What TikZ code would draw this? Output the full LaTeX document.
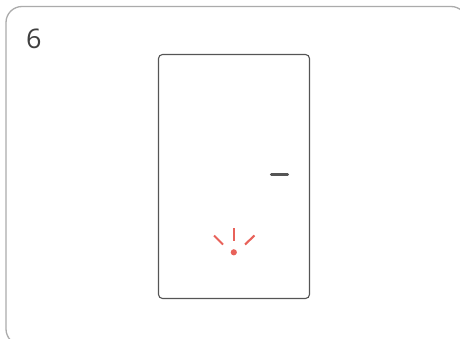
\documentclass[tikz,border=0pt]{standalone}
\usepackage{fontspec}
\setmainfont{Open Sans}
\definecolor{frameline}{HTML}{ABABAB}
\definecolor{bodyline}{HTML}{555555}
\definecolor{alertred}{HTML}{E8625A}
\tikzset{
  frameedge/.style={draw=frameline,line width=1.3pt,rounded corners=16pt},
  bodyedge/.style={draw=bodyline,line width=1.1pt,rounded corners=4pt},
  dashmark/.style={draw=bodyline,line width=3.2pt,line cap=round},
  ray/.style={draw=alertred,line width=2.1pt},
  steplabel/.style={anchor=base west,inner sep=0pt,text=black!75,font=\fontsize{27}{30}\selectfont}
}
\begin{document}
\begin{tikzpicture}[x=1pt,y=-1pt]
\path[use as bounding box] (0,0) rectangle (460,339);
\begin{scope}
\clip (0,0) rectangle (460,339);
\draw[frameedge] (6,6.5) rectangle (467,345);
\end{scope}
\node[steplabel] (num) at (25.8,48.8) {6};
\draw[bodyedge] (158.5,54.5) rectangle (309.5,298.5);
\draw[dashmark] (271.5,174.5) -- (287.5,174.5);
\draw[ray] (233.7,228) -- (233.7,241);
\draw[ray] (214,235.5) -- (223,244.5);
\draw[ray] (254.5,235.5) -- (245,244.5);
\fill[alertred] (233.8,252.3) circle (3.1);
\end{tikzpicture}
\end{document}
